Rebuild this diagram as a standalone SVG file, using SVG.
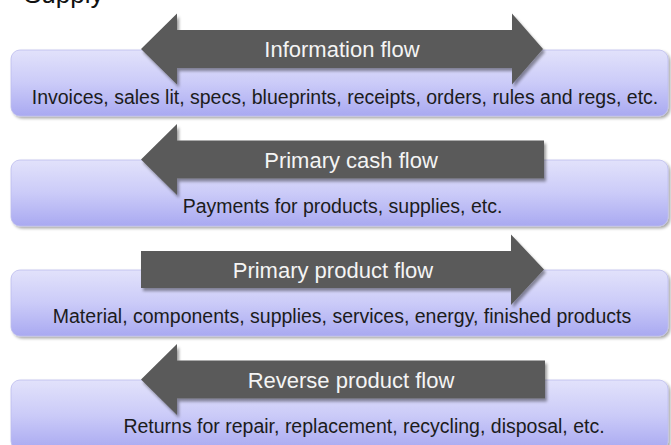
<svg xmlns="http://www.w3.org/2000/svg" width="671" height="445" viewBox="0 0 671 445">
  <defs>
    <linearGradient id="bandFill" x1="0" y1="0" x2="0" y2="1">
      <stop offset="0" stop-color="#e2e2fb"/>
      <stop offset="0.5" stop-color="#cbcbf8"/>
      <stop offset="1" stop-color="#a9a9f1"/>
    </linearGradient>
    <filter id="softShadow" x="-5%" y="-20%" width="110%" height="150%">
      <feGaussianBlur in="SourceAlpha" stdDeviation="1.6"/>
      <feOffset dx="1.5" dy="2" result="blur"/>
      <feComponentTransfer><feFuncA type="linear" slope="0.35"/></feComponentTransfer>
      <feMerge><feMergeNode/><feMergeNode in="SourceGraphic"/></feMerge>
    </filter>
    <filter id="arrowShadow" x="-5%" y="-20%" width="110%" height="150%">
      <feGaussianBlur in="SourceAlpha" stdDeviation="1.5"/>
      <feOffset dx="2" dy="2.5" result="blur"/>
      <feComponentTransfer><feFuncA type="linear" slope="0.4"/></feComponentTransfer>
      <feMerge><feMergeNode/><feMergeNode in="SourceGraphic"/></feMerge>
    </filter>
  </defs>
  <style>
    .band { fill: url(#bandFill); stroke: #bdbdee; stroke-width: 0.8; filter: url(#softShadow); }
    .arrow { fill: #5a5a5a; filter: url(#arrowShadow); }
    .title { font-family: "Liberation Sans", Arial, sans-serif; font-size: 22px; fill: #f4f4f4; text-anchor: middle; }
    .detail { font-family: "Liberation Sans", Arial, sans-serif; font-size: 19.5px; fill: #1c1c1c; text-anchor: middle; }
    .heading { font-family: "Liberation Sans", Arial, sans-serif; font-size: 26px; fill: #111111; }
  </style>

  <rect width="671" height="445" fill="#ffffff"/>

  <!-- page heading, clipped by the top edge -->
  <text class="heading" x="24" y="3">Supply</text>

  <!-- information flow: two-way -->
  <g id="information-flow">
    <rect class="band" x="11" y="50" width="657" height="66" rx="9"/>
    <path class="arrow" d="M141,49 L177,13.5 L177,30 L512,30 L512,13.5 L543,49 L512,84.5 L512,68 L177,68 L177,84.5 Z"/>
    <text class="title" x="342" y="57">Information flow</text>
    <text class="detail" x="345" y="104">Invoices, sales lit, specs, blueprints, receipts, orders, rules and regs, etc.</text>
  </g>

  <!-- primary cash flow: right to left -->
  <g id="cash-flow">
    <rect class="band" x="11" y="160" width="657" height="66" rx="9"/>
    <path class="arrow" d="M141,159.5 L177,124 L177,140.5 L544,140.5 L544,178.5 L177,178.5 L177,195 Z"/>
    <text class="title" x="351" y="168">Primary cash flow</text>
    <text class="detail" x="342.5" y="213">Payments for products, supplies, etc.</text>
  </g>

  <!-- primary product flow: left to right -->
  <g id="product-flow">
    <rect class="band" x="11" y="270" width="657" height="66" rx="9"/>
    <path class="arrow" d="M141,251 L511,251 L511,234.5 L544,269.5 L511,305 L511,288 L141,288 Z"/>
    <text class="title" x="333" y="278">Primary product flow</text>
    <text class="detail" x="342" y="323">Material, components, supplies, services, energy, finished products</text>
  </g>

  <!-- reverse product flow: right to left -->
  <g id="reverse-flow">
    <rect class="band" x="11" y="380" width="657" height="70" rx="9"/>
    <path class="arrow" d="M141,379.5 L177,344 L177,360.5 L545,360.5 L545,398.5 L177,398.5 L177,415 Z"/>
    <text class="title" x="351" y="388">Reverse product flow</text>
    <text class="detail" x="364" y="433">Returns for repair, replacement, recycling, disposal, etc.</text>
  </g>
</svg>
